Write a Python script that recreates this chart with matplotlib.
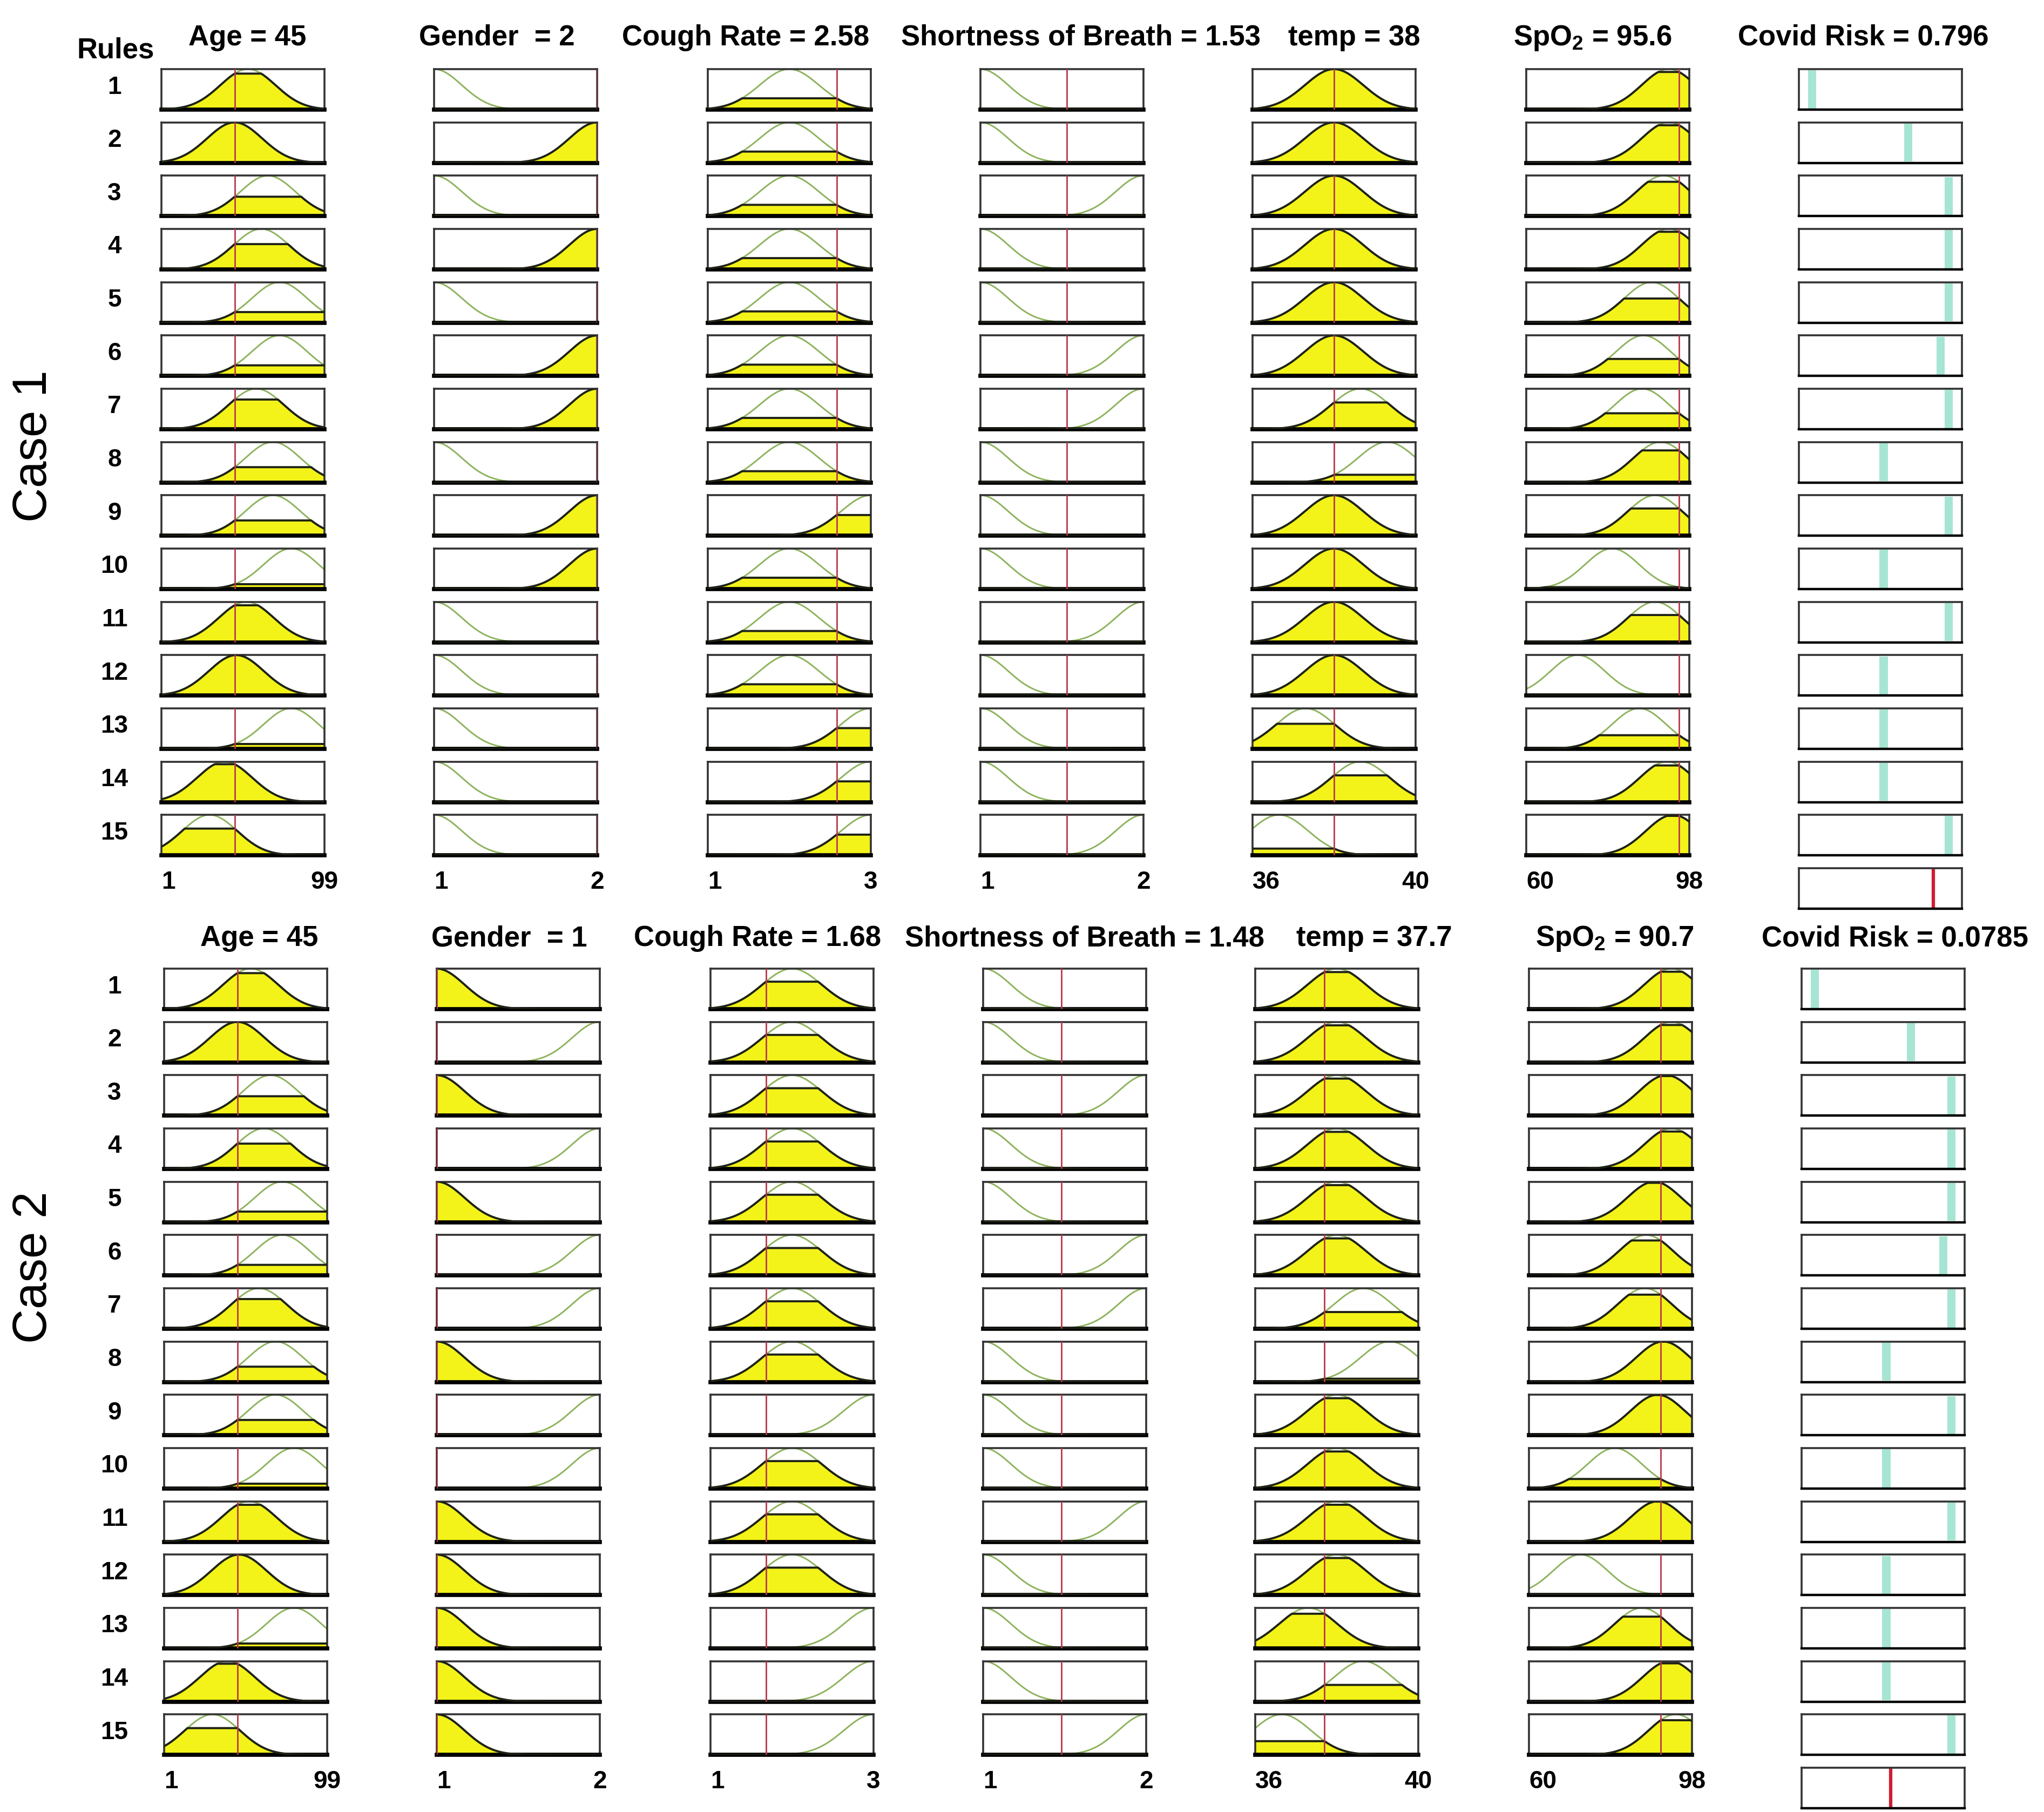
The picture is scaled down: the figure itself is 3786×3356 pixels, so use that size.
import numpy as np
import matplotlib
matplotlib.use("Agg")
import matplotlib.pyplot as plt

plt.rcParams['font.family'] = ['Liberation Sans', 'DejaVu Sans']
plt.rcParams['mathtext.fontset'] = 'custom'
plt.rcParams['mathtext.rm'] = 'Liberation Sans:bold'
plt.rcParams['mathtext.bf'] = 'Liberation Sans:bold'
plt.rcParams['mathtext.it'] = 'Liberation Sans:bold'

# ---------------------------------------------------------------- data
rules = list(range(1, 16))

# centres of the gaussian membership function each rule uses, per input
age_centers    = [53, 45, 65, 61, 72, 72, 58, 68, 68, 79, 52, 46, 79, 39, 30]
gender_centers = [1, 2, 1, 2, 1, 2, 2, 1, 2, 2, 1, 1, 1, 1, 1]
cough_centers  = [2, 2, 2, 2, 2, 2, 2, 2, 3, 2, 2, 2, 3, 3, 3]
sob_centers    = [1, 1, 2, 1, 1, 2, 2, 1, 1, 1, 2, 1, 1, 1, 2]
temp_centers   = [38, 38, 38, 38, 38, 38, 38.65, 39.3, 38, 38, 38, 38, 37.3, 38.65, 36.65]
spo2_centers   = [93.2, 93.2, 92, 93.2, 89.2, 87.3, 87, 91.3, 90, 80, 90, 72, 86.3, 92.8, 94.2]

input_ranges = [(1, 99), (1, 2), (1, 3), (1, 2), (36, 40), (60, 98)]
input_sigmas = [16.5, 0.17, 0.363, 0.17, 0.714, 6.3]

# sugeno output of each rule (on a 0..1 axis)
rule_outputs = [0.08, 0.67, 0.92, 0.92, 0.92, 0.87, 0.92, 0.52, 0.92, 0.52,
                0.92, 0.52, 0.52, 0.52, 0.92]

case1_inputs = [45, 2, 2.58, 1.53, 38, 95.6]
case2_inputs = [45, 1, 1.68, 1.48, 37.7, 90.7]
case1_output_line = 0.825
case2_output_line = 0.548

case1_titles = ["Age = 45", "Gender  = 2", "Cough Rate = 2.58", "Shortness of Breath = 1.53",
                "temp = 38", r"SpO$_{\mathrm{2}}$ = 95.6", "Covid Risk = 0.796"]
case2_titles = ["Age = 45", "Gender  = 1", "Cough Rate = 1.68", "Shortness of Breath = 1.48",
                "temp = 37.7", r"SpO$_{\mathrm{2}}$ = 90.7", "Covid Risk = 0.0785"]

mf_centers = [age_centers, gender_centers, cough_centers, sob_centers, temp_centers, spo2_centers]

# ---------------------------------------------------------------- style
YELLOW = '#f3f31a'
GREEN = '#8db35c'
DARK = '#1e2216'
RED = '#b9374a'
FRAME = '#333333'
AQUA = '#a6e5d3'
OUTRED = '#cf1e34'

W, H = 3786, 3356
BOX_W, BOX_H = 302, 75
PITCH = 98.66


def px_axes(fig, left, top, width, height):
    # axes placed in pixel coordinates of the final image
    return fig.add_axes([left / W, 1 - (top + height) / H, width / W, height / H])


def px_text(fig, x, y, s, **kw):
    fig.text(x / W, 1 - y / H, s, **kw)


def style_box(ax, bottom_lw):
    ax.set_xticks([])
    ax.set_yticks([])
    for s in ax.spines.values():
        s.set_color(FRAME)
        s.set_linewidth(2.6)
    ax.spines['bottom'].set_linewidth(bottom_lw)
    ax.spines['bottom'].set_color('black')


def input_panel(ax, lo, hi, center, sigma, x_in):
    x = np.linspace(lo, hi, 400)
    mf = np.exp(-(x - center) ** 2 / (2 * sigma ** 2))
    level = np.exp(-(x_in - center) ** 2 / (2 * sigma ** 2))
    clipped = np.minimum(mf, level)
    ax.fill_between(x, 0, clipped, color=YELLOW, lw=0, zorder=1)
    ax.plot(x, mf, color=GREEN, lw=2.1, zorder=2)
    ax.plot(x, clipped, color=DARK, lw=2.8, zorder=3)
    ax.axvline(x_in, color=RED, lw=2.0, zorder=4)
    ax.set_xlim(lo, hi)
    ax.set_ylim(0, 1.0)
    style_box(ax, 5.5)


def output_panel(ax, pos):
    ax.bar(pos, 0.94, bottom=0.03, width=0.05, color=AQUA, lw=0)
    ax.set_xlim(0, 1)
    ax.set_ylim(0, 1)
    style_box(ax, 3.2)


def draw_case(fig, inputs, output_line, titles, title_x, top, title_base, x_shift, show_rules):
    col_left = [299, 804, 1311, 1816, 2320, 2827, 3332]
    col_left = [c + x_shift for c in col_left]

    # column headers
    for tx, t in zip(title_x, titles):
        px_text(fig, tx, title_base, t, ha='center', va='baseline',
                fontsize=38, fontweight='bold')
    if show_rules:
        px_text(fig, 214, 107, "Rules", ha='center', va='baseline',
                fontsize=38, fontweight='bold')

    for i, r in enumerate(rules):
        row_top = top + i * PITCH
        px_text(fig, 212, row_top + BOX_H / 2 - 4, str(r), ha='center', va='center',
                fontsize=33, fontweight='bold')
        for j in range(6):
            lo, hi = input_ranges[j]
            ax = px_axes(fig, col_left[j], row_top, BOX_W, BOX_H)
            input_panel(ax, lo, hi, mf_centers[j][i], input_sigmas[j], inputs[j])
        ax = px_axes(fig, col_left[6], row_top, BOX_W, BOX_H)
        output_panel(ax, rule_outputs[i])

    # aggregated output
    out_top = top + 15 * PITCH
    ax = px_axes(fig, col_left[6], out_top, BOX_W, BOX_H)
    ax.axvline(output_line, color=OUTRED, lw=4.5)
    ax.set_xlim(0, 1)
    ax.set_ylim(0, 1)
    style_box(ax, 3.2)

    # range labels under each input column
    tick_base = top + 14 * PITCH + BOX_H + 62
    for j in range(6):
        lo, hi = input_ranges[j]
        px_text(fig, col_left[j], tick_base, "%g" % lo, ha='left', va='baseline',
                fontsize=33, fontweight='bold')
        px_text(fig, col_left[j] + BOX_W, tick_base, "%g" % hi, ha='center', va='baseline',
                fontsize=33, fontweight='bold')


fig = plt.figure(figsize=(W / 100, H / 100), dpi=100)

draw_case(fig, case1_inputs, case1_output_line, case1_titles,
          [458, 920, 1381, 2002, 2508, 2950, 3451], 128, 84, 0, True)
draw_case(fig, case2_inputs, case2_output_line, case2_titles,
          [480, 943, 1403, 2009, 2545, 2991, 3510], 1794, 1752, 5, False)

px_text(fig, 63, 826, "Case 1", ha='center', va='center', rotation=90, fontsize=64)
px_text(fig, 63, 2347, "Case 2", ha='center', va='center', rotation=90, fontsize=64)

fig.savefig("out.png", dpi=100)
